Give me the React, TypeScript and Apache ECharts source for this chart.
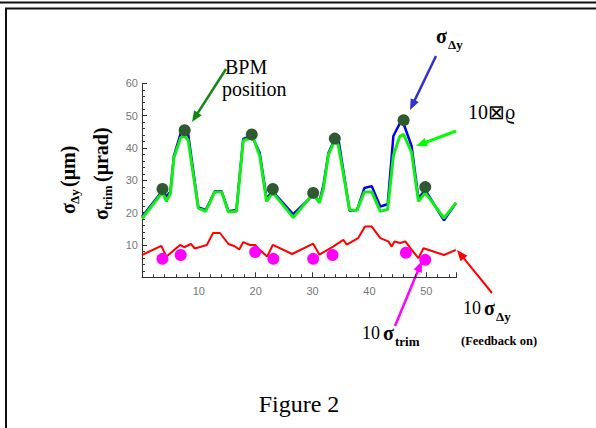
import React, { useEffect, useRef } from "react";
import * as echarts from "echarts";

// ---- data ----
const blueX = [0, 3.6, 4.3, 5.0, 5.6, 6.8, 7.5, 8.1, 9.9, 11.2, 12.8, 14.0, 15.2, 16.6, 17.8, 19.3, 20.7, 21.9, 23.0, 26.6, 30.1, 31.2, 31.9, 32.8, 33.9, 34.6, 35.4, 36.5, 37.8, 39.1, 40.4, 41.9, 43.2, 44.2, 45.3, 46.0, 47.4, 48.6, 49.8, 53.1, 55.2];
const blueY = [18.7, 26.8, 25.0, 26.5, 37.5, 44.5, 45.0, 44.5, 21.6, 20.8, 26.6, 26.6, 20.4, 20.8, 42.8, 43.8, 38.5, 24.5, 26.5, 19.5, 25.5, 23.5, 28.5, 38.5, 42.8, 42.0, 33.0, 20.6, 20.8, 27.6, 28.2, 21.9, 22.6, 43.7, 47.5, 47.5, 40.6, 24.5, 27.0, 17.6, 23.0];

const greenX = [0, 3.6, 4.3, 5.0, 5.6, 6.8, 7.4, 8.1, 9.9, 11.2, 12.8, 14.0, 15.2, 16.6, 17.8, 19.0, 19.7, 20.7, 21.9, 23.0, 26.6, 30.1, 31.2, 31.9, 32.8, 33.8, 34.5, 35.4, 36.5, 37.8, 39.1, 40.4, 41.9, 43.2, 44.2, 45.3, 46.0, 47.4, 48.6, 49.8, 53.1, 55.2];
const greenY = [18.2, 26.3, 23.5, 26.0, 37.0, 43.2, 43.7, 42.5, 21.4, 20.4, 26.4, 26.4, 20.2, 20.4, 42.3, 43.0, 42.5, 37.5, 23.5, 26.2, 18.5, 25.8, 23.0, 27.5, 38.0, 42.0, 41.0, 32.0, 20.8, 20.7, 26.4, 26.4, 20.4, 21.0, 37.6, 43.5, 44.2, 38.6, 23.5, 26.2, 18.3, 23.0];

const redX = [0, 3.4, 4.3, 6.7, 7.4, 8.6, 9.3, 11.4, 12.5, 13.7, 15.2, 16.3, 17.1, 17.8, 19.0, 19.9, 20.7, 22.0, 23.0, 26.4, 30.1, 31.2, 33.6, 35.4, 36.0, 38.0, 39.2, 40.4, 41.9, 43.3, 43.9, 44.4, 45.4, 46.3, 47.2, 48.6, 49.5, 53.1, 55.2];
const redY = [6.9, 9.7, 6.4, 10.0, 9.3, 10.3, 8.9, 10.0, 13.7, 13.7, 10.3, 9.6, 8.6, 10.9, 10.0, 10.0, 8.5, 6.4, 10.0, 7.2, 10.4, 7.0, 9.5, 11.6, 10.1, 12.1, 15.7, 15.7, 12.1, 11.1, 9.5, 11.1, 10.6, 11.1, 9.0, 5.9, 9.0, 6.9, 8.5];

const bpmX = [3.6, 7.5, 19.3, 23.0, 30.1, 33.9, 46.0, 49.8];
const bpmY = [27.3, 45.5, 44.2, 27.3, 26.1, 42.9, 48.6, 27.9];

const trimX = [3.6, 6.8, 19.9, 23.1, 30.1, 33.5, 46.4, 49.8];
const trimY = [5.7, 6.9, 7.8, 5.7, 5.7, 6.9, 7.6, 5.4];

const xTicks = [10, 20, 30, 40, 50];
const yTicks = [10, 20, 30, 40, 50, 60];

const zip = (xs: number[], ys: number[]) => xs.map((x, i) => [x, ys[i]]);

const SERIF = '"Liberation Serif", "Times New Roman", serif';

function txt(text: string, x: number, y: number, size: number, bold = false, align = "left", fill = "#000") {
  return {
    type: "text",
    x,
    y,
    silent: true,
    style: {
      text,
      font: `${bold ? "bold " : ""}${size}px ${SERIF}`,
      fill,
      align,
      textAlign: align,
      verticalAlign: "middle",
      textVerticalAlign: "middle",
    },
  };
}

function arrow(x1: number, y1: number, x2: number, y2: number, color: string, w: number, head = 11, half = 4.5) {
  const dx = x2 - x1;
  const dy = y2 - y1;
  const len = Math.sqrt(dx * dx + dy * dy);
  const ux = dx / len;
  const uy = dy / len;
  const bx = x2 - ux * head;
  const by = y2 - uy * head;
  const nx = -uy;
  const ny = ux;
  return [
    {
      type: "line",
      silent: true,
      shape: { x1, y1, x2: bx + ux * 2, y2: by + uy * 2 },
      style: { stroke: color, lineWidth: w },
    },
    {
      type: "polygon",
      silent: true,
      shape: {
        points: [
          [x2, y2],
          [bx + nx * half, by + ny * half],
          [bx - nx * half, by - ny * half],
        ],
      },
      style: { fill: color },
    },
  ];
}

export default function App() {
  const ref = useRef<HTMLDivElement>(null);

  useEffect(() => {
    if (!ref.current) return;
    const chart = echarts.init(ref.current, undefined, { renderer: "svg" });

    const axisLabel = {
      color: "#777",
      fontSize: 11,
      fontFamily: '"Liberation Sans", Arial, sans-serif',
    };

    const graphic: any[] = [
      // frame
      { type: "line", silent: true, shape: { x1: 0, y1: 2.5, x2: 596, y2: 2.5 }, style: { stroke: "#111", lineWidth: 2 } },
      { type: "line", silent: true, shape: { x1: 5, y1: 8.5, x2: 596, y2: 8.5 }, style: { stroke: "#111", lineWidth: 2 } },
      { type: "line", silent: true, shape: { x1: 6, y1: 8, x2: 6, y2: 428 }, style: { stroke: "#111", lineWidth: 2 } },

      // y-axis titles (rotated)
      {
        type: "group",
        x: 68,
        y: 214,
        rotation: Math.PI / 2,
        children: [
          txt("σ", 0, 0, 20, true),
          txt("Δy", 10, 6, 13, true),
          txt("(μm)", 27, 0, 20, true),
        ],
      },
      {
        type: "group",
        x: 101,
        y: 220,
        rotation: Math.PI / 2,
        children: [
          txt("σ", 0, 0, 20, true),
          txt("trim", 10, 6, 13, true),
          txt("(μrad)", 38, 0, 20, true),
        ],
      },

      // BPM position
      txt("BPM", 225, 67, 20),
      txt("position", 222, 89, 20),
      ...arrow(226, 69, 192, 122, "#118811", 2.5),

      // sigma_dy top right
      txt("σ", 436, 36, 20, true),
      txt("Δy", 448, 44, 13, true),
      ...arrow(436, 56, 410, 110, "#3333cc", 2.5),

      // 10x label with green arrow
      txt("10⊠ϱ", 468, 112, 20),
      ...arrow(456, 131, 416, 146, "#00ff00", 3),

      // 10 sigma_trim
      txt("10", 362, 333, 18),
      txt("σ", 383, 333, 20, true),
      txt("trim", 395, 341, 13, true),
      ...arrow(395, 326, 422, 261, "#ff00ff", 2.5),

      // 10 sigma_dy (feedback on)
      txt("10", 463, 308, 18),
      txt("σ", 484, 308, 20, true),
      txt("Δy", 496, 316, 13, true),
      txt("(Feedback on)", 461, 341, 12.5, true),
      ...arrow(492, 293, 457, 250, "#ff0000", 2),

      // caption
      txt("Figure 2", 299, 404, 24, false, "center"),
    ];

    chart.setOption({
      animation: false,
      backgroundColor: "#fff",
      grid: { left: 142, right: 139.5, top: 83.3, bottom: 150.7, containLabel: false },
      xAxis: {
        type: "value",
        min: 0,
        max: 55.3,
        interval: 10,
        axisLine: { show: true, onZero: false, lineStyle: { color: "#333", width: 1 } },
        axisTick: { show: true, inside: true, length: 5, lineStyle: { color: "#333" } },
        minorTick: { show: true, splitNumber: 5, length: 3, lineStyle: { color: "#333" } },
        splitLine: { show: false },
        axisLabel: {
          ...axisLabel,
          margin: 8,
          showMinLabel: false,
          showMaxLabel: false,
          formatter: (v: number) => (xTicks.includes(v) ? String(v) : ""),
        },
      },
      yAxis: {
        type: "value",
        min: 0,
        max: 60,
        interval: 10,
        axisLine: { show: true, onZero: false, lineStyle: { color: "#333", width: 1 } },
        axisTick: { show: true, inside: true, length: 5, lineStyle: { color: "#333" } },
        minorTick: { show: true, splitNumber: 5, length: 3, lineStyle: { color: "#333" } },
        splitLine: { show: false },
        axisLabel: {
          ...axisLabel,
          margin: 4,
          formatter: (v: number) => (yTicks.includes(v) ? String(v) : ""),
        },
      },
      series: [
        {
          name: "sigma_dy",
          type: "line",
          data: zip(blueX, blueY),
          showSymbol: false,
          lineStyle: { color: "#0000ee", width: 2.5 },
          z: 2,
        },
        {
          name: "10x",
          type: "line",
          data: zip(greenX, greenY),
          showSymbol: false,
          lineStyle: { color: "#11ee11", width: 3 },
          z: 3,
        },
        {
          name: "10 sigma_dy feedback on",
          type: "line",
          data: zip(redX, redY),
          showSymbol: false,
          lineStyle: { color: "#ff0000", width: 2 },
          z: 3,
        },
        {
          name: "BPM position",
          type: "scatter",
          data: zip(bpmX, bpmY),
          symbolSize: 12,
          itemStyle: { color: "#2f5a2f", opacity: 1 },
          z: 5,
        },
        {
          name: "10 sigma_trim",
          type: "scatter",
          data: zip(trimX, trimY),
          symbolSize: 12,
          itemStyle: { color: "#ff00ff", opacity: 1 },
          z: 5,
        },
      ],
      graphic,
    });

    return () => chart.dispose();
  }, []);

  return (
    <div
      ref={ref}
      style={{ position: "absolute", left: 0, top: 0, width: 596, height: 428, background: "#fff" }}
    />
  );
}
